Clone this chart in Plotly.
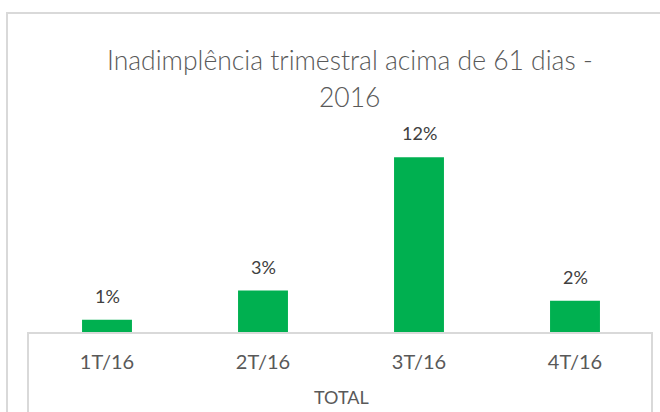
import plotly.graph_objects as go

categories = ["1T/16", "2T/16", "3T/16", "4T/16"]
values = [0.9, 2.9, 12.0, 2.2]          # percent
value_labels = ["1%", "3%", "12%", "2%"]
title_lines = ["Inadimplência trimestral acima de 61 dias -", "2016"]
axis_title = "TOTAL"

W, H = 660, 412
L, R = 29, 653          # plot area px
TOP, BOT = 120, 333

def px_x(p):
    return (p - L) / (R - L)

def px_y(p):
    return (BOT - p) / (BOT - TOP)

GREEN = "#00B050"
GRAY = "#595959"
LINE = "#D9D9D9"
FONT = "Lato"

fig = go.Figure()
fig.add_trace(go.Bar(
    x=categories, y=values, marker=dict(color=GREEN, line=dict(width=0)),
    hoverinfo="skip",
))

for c, v, t in zip(categories, values, value_labels):
    fig.add_annotation(x=c, y=v, xref="x", yref="y", text=t, showarrow=False,
                       yanchor="middle", yshift=24,
                       font=dict(family=FONT, size=18, color="#404040"))

# title lines
for line, yc in zip(title_lines, [60, 97]):
    fig.add_annotation(x=px_x(350), y=px_y(yc), xref="paper", yref="paper",
                       text=line, showarrow=False, yanchor="middle",
                       xanchor="center",
                       font=dict(family=FONT, size=26.5, color=GRAY, weight=300))

fig.add_annotation(x=0.5, y=px_y(397), xref="paper", yref="paper",
                   text=axis_title, showarrow=False, yanchor="middle",
                   font=dict(family=FONT, size=18, color=GRAY))

# outer chart border
fig.add_shape(type="rect", xref="paper", yref="paper",
              x0=px_x(7), x1=px_x(680), y0=px_y(430), y1=px_y(13),
              line=dict(color=LINE, width=2), fillcolor="rgba(0,0,0,0)", layer="below")
# data table box
fig.add_shape(type="rect", xref="paper", yref="paper",
              x0=px_x(28), x1=px_x(652), y0=px_y(430), y1=px_y(333),
              line=dict(color=LINE, width=2), fillcolor="rgba(0,0,0,0)", layer="above")

fig.update_layout(
    width=W, height=H,
    margin=dict(l=L, r=W - R, t=TOP, b=H - BOT, autoexpand=False),
    paper_bgcolor="white", plot_bgcolor="white",
    bargap=0.68, showlegend=False,
    xaxis=dict(showline=False, showgrid=False, zeroline=False, ticks="",
               tickfont=dict(family=FONT, size=20, color=GRAY),
               ticklabelstandoff=15, fixedrange=True),
    yaxis=dict(visible=False, range=[0, 14.55], fixedrange=True),
)

fig.write_html("out.html", config={"displayModeBar": False},
               post_script="document.body.style.margin='0';document.body.style.overflow='hidden';")
